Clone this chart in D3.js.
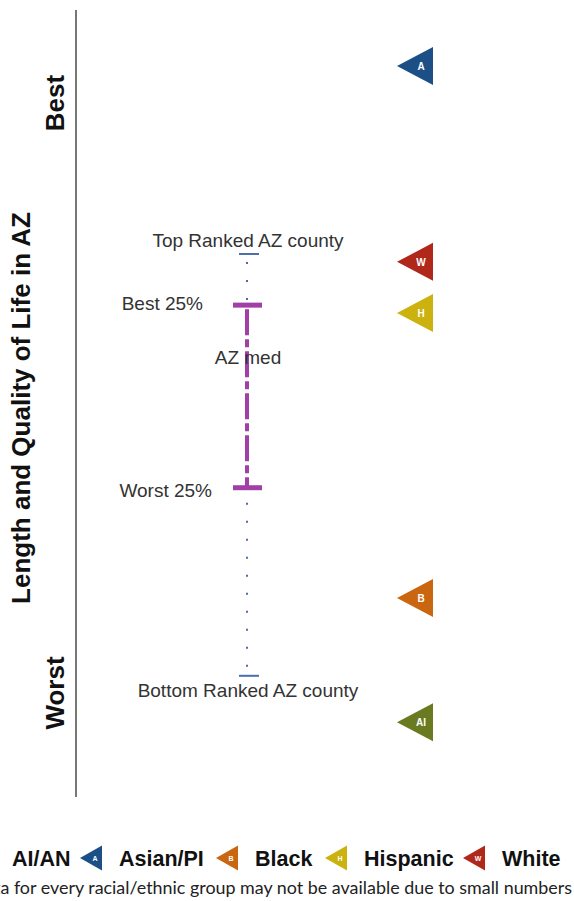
<!DOCTYPE html>
<html>
<head>
  <meta charset="UTF-8">
  <style>
body{ margin:0; background:#fff; }
svg{ display:block; font-family:"Liberation Sans", Arial, sans-serif; }
  </style>
</head>
<body>
<svg></svg>
<script src="https://d3js.org/d3.v7.min.js"></script>
<script>

let width = 574, height = 901;

// rank position, 0 = best, 100 = worst
let groups = ["Asian/PI", "White", "Hispanic", "Black", "AI/AN"];
let letters = ["A", "W", "H", "B", "AI"];
let groupValues = [7.1, 32.0, 38.5, 74.7, 90.5];
let groupColors = ["#1b4f86", "#b0281a", "#cbb20e", "#c9660f", "#6a7a20"];

let benchNames = ["Top Ranked AZ county", "Best 25%", "AZ med", "Worst 25%", "Bottom Ranked AZ county"];
let benchValues = [31.0, 37.5, 44.2, 60.7, 84.6];

let legendNames = ["AI/AN", "Asian/PI", "Black", "Hispanic", "White"];
let legendColors = ["#6a7a20", "#1b4f86", "#c9660f", "#cbb20e", "#b0281a"];
let legendLetters = ["AI", "A", "B", "H", "W"];

let svg = d3.select("svg")
    .attr("width", width)
    .attr("height", height)

let y = d3.scaleLinear().domain([0, 100]).range([10, 797])

// axis line
svg.append("line")
    .attr("x1", 76).attr("x2", 76)
    .attr("y1", y(0)).attr("y2", y(100))
    .attr("stroke", "#777").attr("stroke-width", 2)

svg.append("text")
    .attr("transform", "translate(64," + 103 + ") rotate(-90)")
    .attr("text-anchor", "middle")
    .style("font-size", "26px").style("font-weight", "bold").attr("fill", "#111")
    .text("Best")
svg.append("text")
    .attr("transform", "translate(64," + 693 + ") rotate(-90)")
    .attr("text-anchor", "middle")
    .style("font-size", "26px").style("font-weight", "bold").attr("fill", "#111")
    .text("Worst")
svg.append("text")
    .attr("transform", "translate(30," + 408 + ") rotate(-90)")
    .attr("text-anchor", "middle")
    .style("font-size", "26px").style("font-weight", "bold").attr("fill", "#111")
    .text("Length and Quality of Life in AZ")

let cx = 247

// dotted lines top->best25 and worst25->bottom
svg.append("line")
    .attr("x1", cx).attr("x2", cx)
    .attr("y1", y(benchValues[0]) + 8).attr("y2", y(benchValues[1]))
    .attr("stroke", "#4a6ea8").attr("stroke-width", 2)
    .attr("stroke-dasharray", "2,16")
svg.append("line")
    .attr("x1", cx).attr("x2", cx)
    .attr("y1", y(benchValues[3]) + 15).attr("y2", y(benchValues[4]) - 6)
    .attr("stroke", "#4a6ea8").attr("stroke-width", 2)
    .attr("stroke-dasharray", "2,16")

// interquartile dash-dot
svg.append("line")
    .attr("x1", cx).attr("x2", cx)
    .attr("y1", y(benchValues[1]) + 4).attr("y2", y(benchValues[3]))
    .attr("stroke", "#a23fa6").attr("stroke-width", 4)
    .attr("stroke-dasharray", "26,4,8,4")

// caps
svg.selectAll(".cap")
    .data([benchValues[1], benchValues[3]])
    .enter().append("line")
    .attr("x1", cx - 14).attr("x2", cx + 15)
    .attr("y1", d => y(d)).attr("y2", d => y(d))
    .attr("stroke", "#a23fa6").attr("stroke-width", 5)
svg.selectAll(".tick")
    .data([benchValues[0], benchValues[4]])
    .enter().append("line")
    .attr("x1", cx - 8).attr("x2", cx + 12)
    .attr("y1", d => y(d)).attr("y2", d => y(d))
    .attr("stroke", "#4a6ea8").attr("stroke-width", 2)

// bench labels
let lab = {size: "19px", fill: "#333"}
svg.append("text").attr("x", 248).attr("y", y(benchValues[0]) - 7)
    .attr("text-anchor", "middle").style("font-size", lab.size).attr("fill", lab.fill)
    .text(benchNames[0])
svg.append("text").attr("x", 203).attr("y", y(benchValues[1]) + 5)
    .attr("text-anchor", "end").style("font-size", lab.size).attr("fill", lab.fill)
    .text(benchNames[1])
svg.append("text").attr("x", 248).attr("y", y(benchValues[2]) + 6)
    .attr("text-anchor", "middle").style("font-size", lab.size).attr("fill", lab.fill)
    .text(benchNames[2])
svg.append("text").attr("x", 212).attr("y", y(benchValues[3]) + 9)
    .attr("text-anchor", "end").style("font-size", lab.size).attr("fill", lab.fill)
    .text(benchNames[3])
svg.append("text").attr("x", 248).attr("y", y(benchValues[4]) + 21)
    .attr("text-anchor", "middle").style("font-size", lab.size).attr("fill", lab.fill)
    .text(benchNames[4])

// group markers
function tri(x0, w, h) {
    return "M" + x0 + ",0 L" + (x0 + w) + "," + (-h / 2) + " L" + (x0 + w) + "," + (h / 2) + " Z"
}

let marks = svg.append("g").selectAll("g")
    .data(groups)
    .enter().append("g")
    .attr("transform", (d, i) => "translate(0," + y(groupValues[i]) + ")")

marks.append("path")
    .attr("d", tri(397, 36, 38))
    .attr("fill", (d, i) => groupColors[i])
marks.append("text")
    .attr("x", 421).attr("y", 4)
    .attr("text-anchor", "middle")
    .style("font-size", "10px").style("font-weight", "bold")
    .attr("fill", "#fff")
    .text((d, i) => letters[i])

// legend
let legendX = [-27, 80, 216, 325, 463]
let lg = svg.append("g").selectAll("g")
    .data(legendNames)
    .enter().append("g")
    .attr("transform", (d, i) => "translate(" + legendX[i] + ",858)")
lg.append("path")
    .attr("d", tri(0, 22, 25))
    .attr("fill", (d, i) => legendColors[i])
lg.append("text")
    .attr("x", 15).attr("y", 3)
    .attr("text-anchor", "middle")
    .style("font-size", "7px").style("font-weight", "bold")
    .attr("fill", "#fff")
    .text((d, i) => legendLetters[i])
lg.append("text")
    .attr("x", 39).attr("y", 7.5)
    .style("font-size", "21.5px").style("font-weight", "bold")
    .attr("fill", "#111")
    .text(d => d)

// footnote: sized so that everything after "Dat" fills the width
let note = svg.append("text")
    .attr("x", 572).attr("y", 894)
    .attr("text-anchor", "end")
    .style("font-family", "Lato, 'Open Sans', sans-serif")
    .style("font-size", "100px").attr("fill", "#222")
    .text("a for every racial/ethnic group may not be available due to small numbers")
let fs = 100 * 572 / note.node().getComputedTextLength()
note.style("font-size", fs + "px")
    .text("Data for every racial/ethnic group may not be available due to small numbers")

</script>
</body>
</html>
